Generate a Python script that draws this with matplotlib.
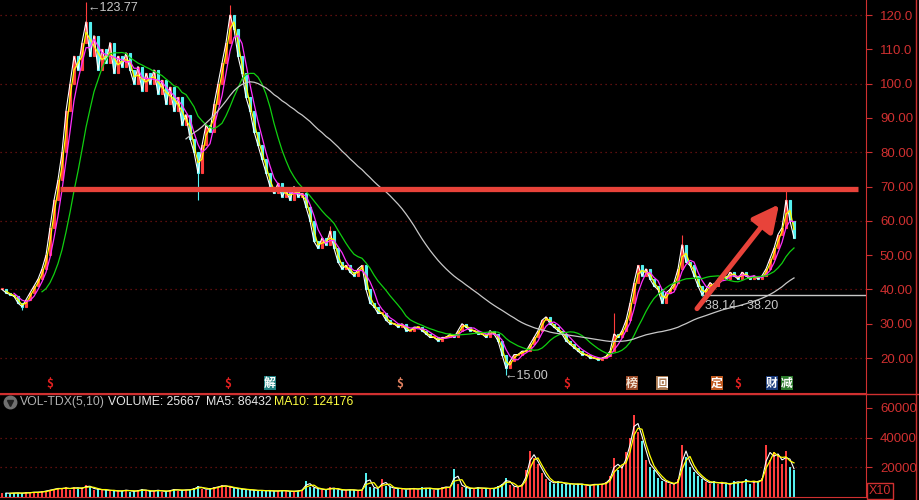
import numpy as np
import pandas as pd
import matplotlib.pyplot as plt
from matplotlib.lines import Line2D

# daily closes (one value every 4 px)
close = [
    40, 39, 38.5, 38, 36, 35, 37, 39, 41, 43,
    46, 50, 58, 66, 72, 80, 92, 100, 108, 104,
    112, 118, 108, 114, 104, 110, 106, 112, 103, 108,
    105, 109, 104, 100, 105, 98, 103, 100, 104, 97,
    101, 94, 99, 92, 96, 88, 91, 84, 80, 74,
    82, 88, 86, 94, 100, 106, 112, 120, 116, 108,
    103, 96, 92, 86, 82, 78, 74, 70, 68, 71,
    67, 69, 66, 70, 67, 68, 64, 60, 54, 52,
    55, 53, 57, 52, 48, 46, 47, 45, 44, 46,
    47, 40, 36, 35, 33, 33, 31, 30, 30, 29,
    30, 28, 28, 29, 29, 28, 27, 26, 26, 25,
    26, 26, 27, 26, 28, 30, 29, 28, 28, 27,
    27, 26, 28, 27, 25, 21, 17, 19, 21, 21,
    22, 22, 24, 26, 28, 31, 32, 30, 29, 28,
    27, 25, 24, 23, 22, 21, 21, 20, 20, 19.5,
    20, 20.5, 22, 27, 26, 28, 31, 36, 42, 47,
    44, 46, 43, 41, 40, 36, 39, 40, 42, 46,
    53, 48, 47, 44, 41, 38.5, 40, 42, 41, 43,
    44, 43, 45, 44, 43, 45, 44, 43, 44, 43,
    44, 46, 49, 52, 56, 58, 66, 60, 55,
]

volume = [
    2500, 2800, 2200, 3000, 2600, 2400, 3200, 2800, 3500, 3000, 3800, 4200, 5000, 5500, 6000,
    5500, 6500, 5000, 7000, 5500, 6000, 8000, 6500, 5000, 5500,
    4500, 5000, 4000, 4500, 3800, 4200, 5000, 3600, 4000, 4500, 5200, 4000, 3800, 4300, 4800,
    3500, 4000, 4500, 5500, 4200, 4600, 5000, 4800, 6000, 7500,
    5500, 5000, 5800, 6500, 7000, 8000, 7000, 6500, 6000, 5500, 5200, 5000, 4800, 4500, 4200,
    4600, 4000, 4400, 3800, 4200, 4500, 4000, 3600, 4000, 4200,
    5000, 11000, 7000, 6000, 5500, 5000, 4800, 6500, 5500, 5000, 4500, 4800, 5000, 4500, 4200,
    5000, 16000, 7000, 6000, 5500, 12000, 7500, 6500, 5500, 6000,
    5500, 5000, 6000, 5500, 5000, 6500, 5500, 6000, 5000, 5500, 6500, 7000, 6000, 19000, 9000,
    7000, 6000, 5500, 6000, 6500, 5500, 6000, 5500, 6000, 7500,
    9000, 13000, 8000, 6500, 7000, 9000, 18000, 31000, 26000, 22000, 16000, 12000, 10000, 9000, 11000,
    9000, 8500, 9500, 8000, 9000, 8500, 7500, 8000, 9000, 8000,
    9000, 10000, 14000, 26000, 18000, 21000, 30000, 40000, 55000, 44000, 38000, 25000, 20000, 18000, 13000,
    11000, 10000, 9000, 8500, 12000, 35000, 27000, 20000, 17000, 14000,
    12000, 10000, 9000, 11000, 8500, 10000, 9000, 8000, 11000, 9500, 10000, 12000, 9000, 11000, 10000,
    13000, 35000, 25000, 30000, 28000, 22000, 31000, 20000, 18000,
]

# notable wick extremes (bar index -> price)
wick_hi = {21: 123.77, 57: 123, 82: 58.5, 153: 33, 170: 56, 196: 69.5}
wick_lo = {5: 34, 49: 66, 126: 15.0, 175: 38.14}

price_ticks = [20, 30, 40, 50, 60, 70, 80, 90, 100, 110, 120]
price_labels = ['20.00', '30.00', '40.00', '50.00', '60.00', '70.00', '80.00',
                '90.00', '100.0', '110.0', '120.0']
vol_ticks = [20000, 40000, 60000]
vol_labels = ['20000', '40000', '60000']

# markers row: (x position, label, text color, background)
events = [(50, '$', '#e02020', None), (228, '$', '#e02020', None), (270, '解', 'white', '#1f7f80'),
          (400, '$', '#e08060', None), (567, '$', '#e02020', None), (632, '榜', '#f0e0d0', '#9a4a28'),
          (662, '回', 'white', '#a87850'), (717, '定', 'white', '#c05a20'), (738, '$', '#e02020', None),
          (772, '财', 'white', '#1a3a7a'), (787, '减', 'white', '#2a7a2a')]

RED = '#d03030'
GRID = '#7a1515'

close = np.array(close, dtype=float)
volume = np.array(volume, dtype=float)
n = len(close)
x = 2 + 4 * np.arange(n)
opens = np.concatenate([[close[0]], close[:-1]])
s = pd.Series(close)

fig = plt.figure(figsize=(9.2, 5), dpi=100, facecolor='black')
ax = fig.add_axes([0, 107 / 500, 866 / 920, 393 / 500], facecolor='black')
axv = fig.add_axes([0, 3 / 500, 866 / 920, 103 / 500], facecolor='black')

# candles
for i in range(n):
    o, c = opens[i], close[i]
    up = c >= o
    col = '#ff3c3c' if up else '#54f0f0'
    hi = wick_hi.get(i, max(o, c))
    lo = wick_lo.get(i, min(o, c))
    ax.vlines(x[i], lo, hi, color=col, lw=0.8)
    ax.bar(x[i], max(abs(c - o), 0.3), bottom=min(o, c), width=2.6,
           facecolor='black' if up else col, edgecolor=col, lw=0.8)

# moving averages
ax.plot(x, s, color='white', lw=0.8)
ax.plot(x, s.rolling(2).mean(), color='#ffff00', lw=0.9)
ax.plot(x, s.rolling(4).mean(), color='#ff30ff', lw=0.9)
ax.plot(x, s.rolling(11).mean(), color='#10d010', lw=0.9)
ax.plot(x, s.rolling(47).mean(), color='#c8c8c8', lw=0.9)

for p in [20, 40, 60, 80, 100, 120]:
    ax.axhline(p, color=GRID, lw=0.9, ls=(0, (1, 3)), zorder=0)

# drawn lines
ax.plot([60, 858], [69.3, 69.3], color='#e8433a', lw=3.8, solid_capstyle='butt')
ax.annotate('', xy=(779, 64.8), xytext=(697, 34.4),
            arrowprops=dict(arrowstyle='-|>,head_length=0.8,head_width=0.4', color='#e8433a',
                            lw=3.6, mutation_scale=20, shrinkA=0, shrinkB=0))
ax.plot([703, 866], [38.5, 38.5], color='#c8c8c8', lw=1)
ax.text(705, 35.3, '38.14 - 38.20', color='#c8c8c8', fontsize=9, family='Liberation Sans', va='center')
ax.text(88, 122.2, '←123.77', color='#c8c8c8', fontsize=9, family='Liberation Sans', va='center')
ax.text(505, 14.9, '←15.00', color='#c8c8c8', fontsize=9, family='Liberation Sans', va='center')

for ex, lab, tc, bg in events:
    kw = dict(ha='center', va='center', fontsize=8.5, color=tc, fontweight='bold',
              family=['Noto Sans CJK SC', 'DejaVu Sans'])
    if bg:
        kw['bbox'] = dict(boxstyle='square,pad=0.05', facecolor=bg, edgecolor='none')
    ax.text(ex, 12.6, lab, **kw)

ax.set_xlim(0, 866)
ax.set_ylim(9.8, 124.4)

# volume panel
vcol = np.where(close >= opens, '#ff3c3c', '#54f0f0')
axv.bar(x, volume, width=2.6, color=vcol)
vs = pd.Series(volume)
axv.plot(x, vs.rolling(2).mean(), color='white', lw=0.8)
axv.plot(x, vs.rolling(3).mean(), color='#ffff00', lw=0.9)
for v in [20000, 40000]:
    axv.axhline(v, color=GRID, lw=0.9, ls=(0, (1, 3)), zorder=0)
axv.set_xlim(0, 866)
axv.set_ylim(0, 69400)

axv.plot([10], [63800], marker='o', ms=9, color='#707070')
axv.plot([10], [63300], marker='v', ms=4, color='#202020')
legend_parts = [(20, 'VOL-TDX(5,10)', '#b0b0b0'), (108, 'VOLUME: 25667', '#e8e8e8'),
                (206, 'MA5: 86432', '#e8e8e8'), (274, 'MA10: 124176', '#ffff40')]
for lx, txt, tc in legend_parts:
    axv.text(lx, 63800, txt, color=tc, fontsize=8.8, family='Liberation Sans', va='center')

for a, ticks, labels in [(ax, price_ticks, price_labels), (axv, vol_ticks, vol_labels)]:
    for side in ['left', 'top']:
        a.spines[side].set_visible(False)
    a.spines['right'].set_color(RED)
    a.spines['bottom'].set_color(RED)
    a.set_xticks([])
    a.yaxis.tick_right()
    a.set_yticks(ticks, labels)
    a.tick_params(axis='y', colors=RED, length=4, pad=6, labelsize=9.5)
    for t in a.get_yticklabels():
        t.set_family('Liberation Sans')

fig.add_artist(Line2D([916 / 920, 916 / 920], [0, 1], color=RED, lw=1, transform=fig.transFigure))
fig.add_artist(Line2D([0, 1], [106.5 / 500, 106.5 / 500], color=RED, lw=1, transform=fig.transFigure))
fig.text(869 / 920, 9 / 500, 'X10', color=RED, fontsize=9, family='Liberation Sans', va='center',
         bbox=dict(boxstyle='square,pad=0.15', facecolor='black', edgecolor=RED))

fig.savefig('out.png', dpi=100, facecolor='black')
